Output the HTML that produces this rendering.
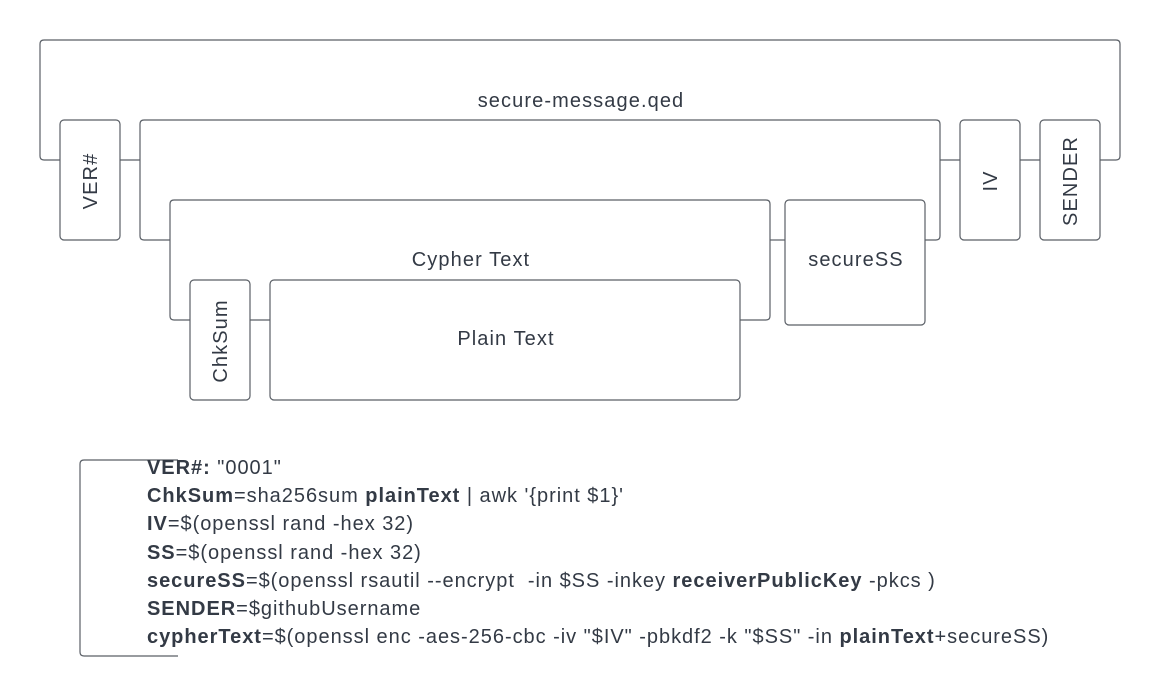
<!DOCTYPE html>
<html><head><meta charset="utf-8"><style>
html,body{margin:0;padding:0;background:#fff;}
svg{display:block;}
text{font-family:"Liberation Sans",Arial,sans-serif;fill:#333a45;}
</style></head><body>
<svg width="1160" height="697" viewBox="0 0 1160 697" xmlns="http://www.w3.org/2000/svg">
<g fill="none" stroke="#5a5f66" stroke-width="1.2">
<path d="M60 160 H44 Q40 160 40 156 V44 Q40 40 44 40 H1116 Q1120 40 1120 44 V156 Q1120 160 1116 160 H1100"/>
<rect x="60" y="120" width="60" height="120" rx="4"/>
<line x1="120" y1="160" x2="140" y2="160"/>
<path d="M170 240 H144 Q140 240 140 236 V124 Q140 120 144 120 H936 Q940 120 940 124 V236 Q940 240 936 240 H925"/>
<line x1="940" y1="160" x2="960" y2="160"/>
<rect x="960" y="120" width="60" height="120" rx="4"/>
<line x1="1020" y1="160" x2="1040" y2="160"/>
<rect x="1040" y="120" width="60" height="120" rx="4"/>
<path d="M190 320 H174 Q170 320 170 316 V204 Q170 200 174 200 H766 Q770 200 770 204 V316 Q770 320 766 320 H740"/>
<line x1="770" y1="240" x2="785" y2="240"/>
<rect x="785" y="200" width="140" height="125" rx="4"/>
<rect x="190" y="280" width="60" height="120" rx="4"/>
<line x1="250" y1="320" x2="270" y2="320"/>
<rect x="270" y="280" width="470" height="120" rx="4"/>
<path d="M178 460 H84 Q80 460 80 464 V652 Q80 656 84 656 H178"/>
</g>
<g font-size="20" letter-spacing="1.1">
<text x="581" y="107" text-anchor="middle">secure-message.qed</text>
<text x="471" y="266" text-anchor="middle">Cypher Text</text>
<text x="856" y="266" text-anchor="middle">secureSS</text>
<text x="506" y="345" text-anchor="middle">Plain Text</text>
<text transform="translate(97,181) rotate(-90)" text-anchor="middle">VER#</text>
<text transform="translate(997,181) rotate(-90)" text-anchor="middle">IV</text>
<text transform="translate(1077,181) rotate(-90)" text-anchor="middle">SENDER</text>
<text transform="translate(227,341) rotate(-90)" text-anchor="middle">ChkSum</text>
</g>
<g font-size="20" letter-spacing="0.97">
<text x="147" y="474"><tspan font-weight="bold">VER#:</tspan> "0001"</text>
<text x="147" y="502"><tspan font-weight="bold">ChkSum</tspan>=sha256sum <tspan font-weight="bold">plainText</tspan> | awk '{print $1}'</text>
<text x="147" y="530"><tspan font-weight="bold">IV</tspan>=$(openssl rand -hex 32)</text>
<text x="147" y="559"><tspan font-weight="bold">SS</tspan>=$(openssl rand -hex 32)</text>
<text x="147" y="587" xml:space="preserve"><tspan font-weight="bold">secureSS</tspan>=$(openssl rsautil --encrypt  -in $SS -inkey <tspan font-weight="bold">receiverPublicKey</tspan> -pkcs )</text>
<text x="147" y="615"><tspan font-weight="bold">SENDER</tspan>=$githubUsername</text>
<text x="147" y="643"><tspan font-weight="bold">cypherText</tspan>=$(openssl enc -aes-256-cbc -iv "$IV" -pbkdf2 -k "$SS" -in <tspan font-weight="bold">plainText</tspan>+secureSS)</text>
</g>
</svg>
</body></html>
